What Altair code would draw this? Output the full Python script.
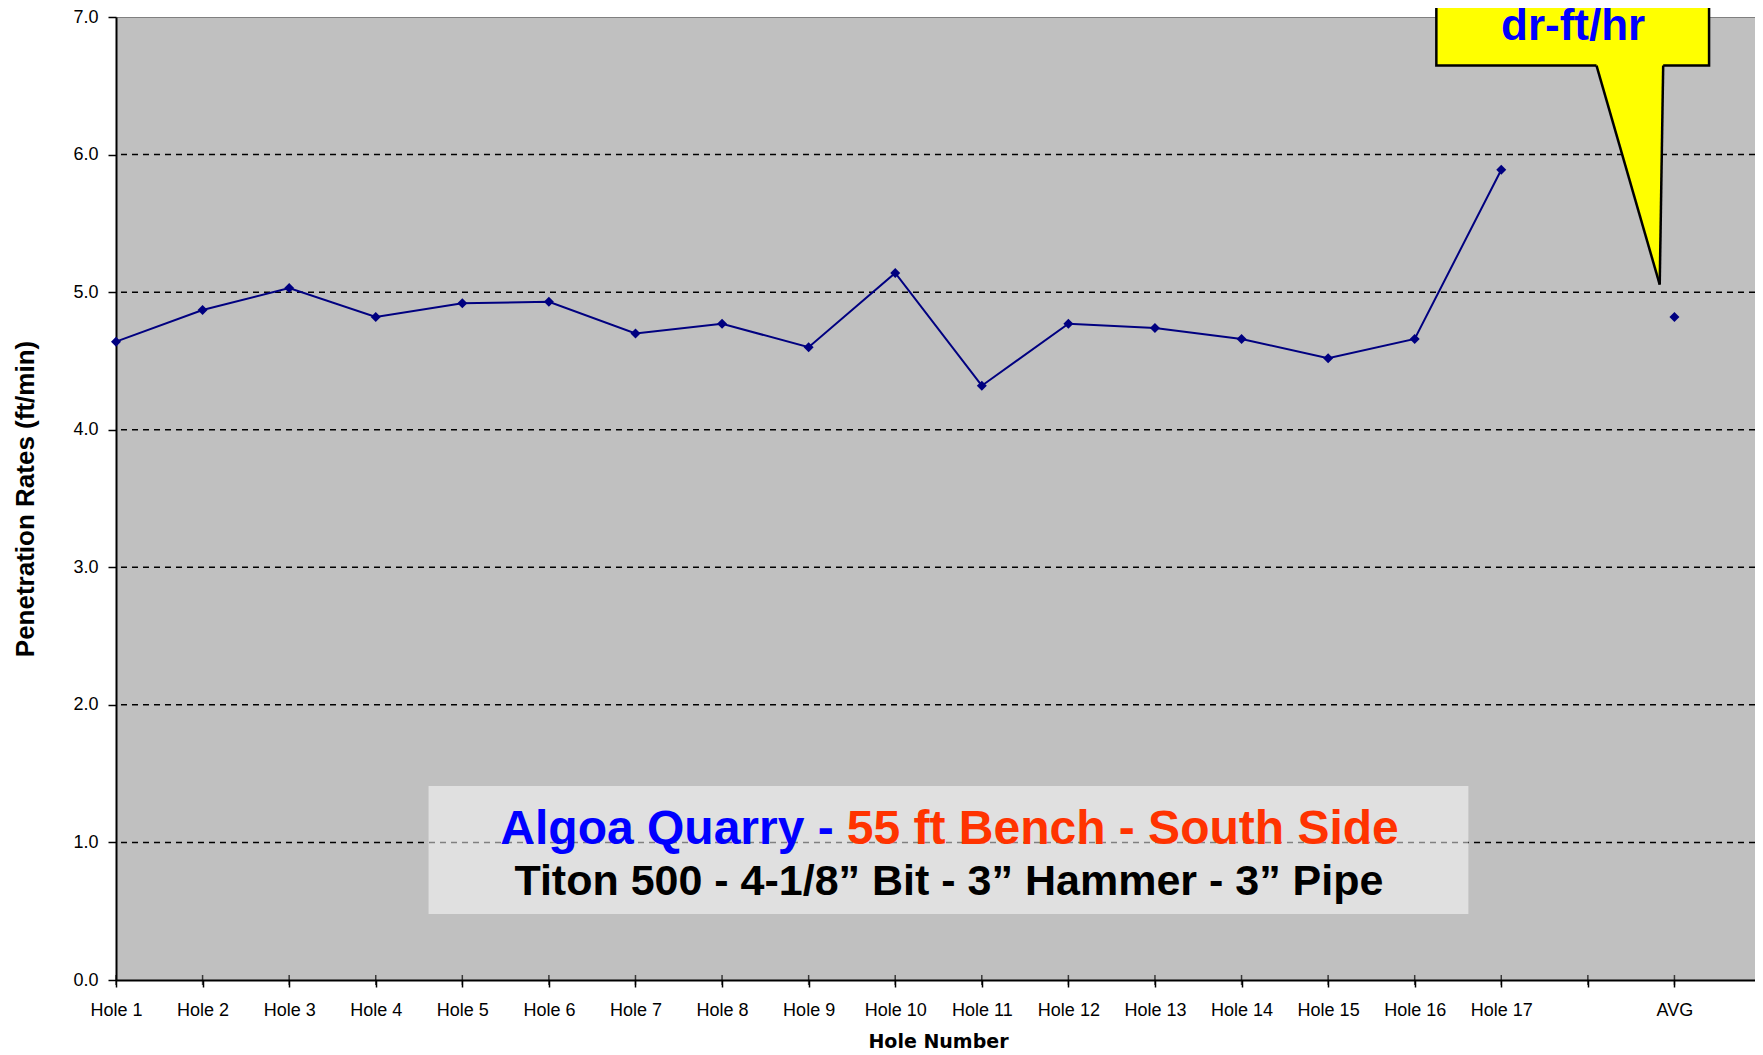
import json
import altair as alt
import pandas as pd

# ---------------- data ----------------
holes = ["Hole 1", "Hole 2", "Hole 3", "Hole 4", "Hole 5", "Hole 6", "Hole 7", "Hole 8",
         "Hole 9", "Hole 10", "Hole 11", "Hole 12", "Hole 13", "Hole 14", "Hole 15",
         "Hole 16", "Hole 17"]
rates = [4.64, 4.87, 5.03, 4.82, 4.92, 4.93, 4.70, 4.77, 4.60, 5.14, 4.32, 4.77,
         4.74, 4.66, 4.52, 4.66, 5.89]
avg_label = "AVG"
avg_rate = 4.82
tick_labels = holes + ["", avg_label]
y_ticks = [0, 1, 2, 3, 4, 5, 6, 7]
grid_levels = [1, 2, 3, 4, 5, 6]

x_title = "Hole Number"
y_title = "Penetration Rates (ft/min)"
callout_text = "dr-ft/hr"
box_line1_a = "Algoa Quarry -"
box_line1_b = "55 ft Bench - South Side"
box_line2 = "Titon 500 - 4-1/8\u201d Bit - 3\u201d Hammer - 3\u201d Pipe"

# ---------------- tables ----------------
df_line = pd.DataFrame({"pos": list(range(len(holes))), "label": holes, "rate": rates})
df_avg = pd.DataFrame({"pos": [tick_labels.index(avg_label)], "label": [avg_label], "rate": [avg_rate]})
df_ticks = pd.DataFrame({"pos": list(range(len(tick_labels)))})
df_grid = pd.DataFrame({"level": grid_levels})

# annotation geometry (in data units of the chart)
df_callout_rect = pd.DataFrame({"x": [15.25], "x2": [18.40], "y": [7.30], "y2": [6.647]})
df_callout_tri = pd.DataFrame({"x": [17.10, 17.83, 17.87], "y": [6.69, 6.69, 6.69], "y2": [6.647, 5.055, 6.647]})
df_callout_sides = pd.DataFrame({"x": [17.10, 17.87], "y": [6.647, 6.647], "x2": [17.83, 17.83], "y2": [5.055, 5.055]})
df_callout_text = pd.DataFrame({"x": [16.83], "y": [6.835], "t": [callout_text]})
df_box = pd.DataFrame({"x": [3.61], "x2": [15.62], "y": [1.41], "y2": [0.48]})
df_box_a = pd.DataFrame({"x": [8.29], "y": [0.99], "t": [box_line1_a]})
df_box_b = pd.DataFrame({"x": [8.44], "y": [0.99], "t": [box_line1_b]})
df_box_c = pd.DataFrame({"x": [9.62], "y": [0.62], "t": [box_line2]})

# ---------------- styling ----------------
# page body is 1747px wide: the svg must not exceed it (else it gets scaled down)
PAD_L = 108
W, H = 1747 - PAD_L, 963
STEP = 86.58  # px per category step
label_font = "Liberation Sans"
x_scale = alt.Scale(domain=[0, W / STEP], nice=False, zero=False)
y_scale = alt.Scale(domain=[0, 7], nice=False, zero=True)

x_axis = alt.Axis(
    values=list(range(len(tick_labels))),
    labelExpr=json.dumps(tick_labels) + "[datum.value] || ''",
    grid=False, domainColor="black", domainWidth=2,
    tickColor="black", tickSize=7, tickWidth=1.5,
    labelFont=label_font, labelFontSize=18, labelColor="black",
    labelPadding=14, labelBaseline="top", labelFlush=False, labelOverlap=False, labelBound=False,
    title=x_title, titleFont="DejaVu Sans", titleFontSize=19, titleFontWeight="bold",
    titleColor="black", titleX=822, titleY=61, titleAlign="center", titleBaseline="middle",
)
y_axis = alt.Axis(
    values=y_ticks, format=".1f", grid=False,
    domainColor="black", domainWidth=2, tickColor="black", tickSize=8, tickWidth=1.5,
    labelFont=label_font, labelFontSize=18, labelColor="black", labelPadding=10,
    labelFlush=False, labelOverlap=False,
    title=y_title, titleFont=label_font, titleFontSize=26, titleFontWeight="bold",
    titleColor="black", titleX=-91, titleY=H / 2, titleAngle=270,
    titleAlign="center", titleBaseline="middle",
)


def X(field):
    return alt.X(f"{field}:Q", scale=x_scale, axis=x_axis)


def Y(field):
    return alt.Y(f"{field}:Q", scale=y_scale, axis=y_axis)


grid = alt.Chart(df_grid).mark_rule(color="black", strokeWidth=1.5, strokeDash=[6, 5]).encode(
    y=Y("level"))

callout_rect = alt.Chart(df_callout_rect).mark_rect(fill="#FFFF00", stroke="black", strokeWidth=2.5).encode(
    x=X("x"), x2="x2", y=Y("y"), y2="y2")
callout_tri = alt.Chart(df_callout_tri).mark_area(color="#FFFF00", opacity=1).encode(
    x=X("x"), y=Y("y"), y2="y2")
callout_sides = alt.Chart(df_callout_sides).mark_rule(color="black", strokeWidth=2.5).encode(
    x=X("x"), x2="x2", y=Y("y"), y2="y2")
callout_txt = alt.Chart(df_callout_text).mark_text(
    font=label_font, fontSize=44, fontWeight="bold", color="#0000FF",
    align="center", baseline="alphabetic").encode(x=X("x"), y=Y("y"), text="t:N")

box = alt.Chart(df_box).mark_rect(fill="white", opacity=0.5).encode(
    x=X("x"), x2="x2", y=Y("y"), y2="y2")
box_a = alt.Chart(df_box_a).mark_text(
    font=label_font, fontSize=48, fontWeight="bold", color="#0000FF",
    align="right", baseline="alphabetic").encode(x=X("x"), y=Y("y"), text="t:N")
box_b = alt.Chart(df_box_b).mark_text(
    font=label_font, fontSize=48, fontWeight="bold", color="#FF3300",
    align="left", baseline="alphabetic").encode(x=X("x"), y=Y("y"), text="t:N")
box_c = alt.Chart(df_box_c).mark_text(
    font=label_font, fontSize=43, fontWeight="bold", color="black",
    align="center", baseline="alphabetic").encode(x=X("x"), y=Y("y"), text="t:N")

line = alt.Chart(df_line).mark_line(color="#000080", strokeWidth=2).encode(
    x=X("pos"), y=Y("rate"))
pts = alt.Chart(df_line).mark_point(shape="diamond", filled=True, size=100, color="#000080", opacity=1).encode(
    x=X("pos"), y=Y("rate"))
avg_pt = alt.Chart(df_avg).mark_point(shape="diamond", filled=True, size=100, color="#000080", opacity=1).encode(
    x=X("pos"), y=Y("rate"))
inner_ticks = alt.Chart(df_ticks).mark_tick(color="black", thickness=1.5, size=10, orient="vertical").encode(
    x=X("pos"), y=alt.value(H))

chart = alt.layer(
    grid, callout_rect, callout_tri, callout_sides, callout_txt,
    box, box_a, box_b, box_c,
    line, pts, avg_pt, inner_ticks,
).properties(
    width=W, height=H,
    padding={"left": PAD_L, "top": 9, "right": 0, "bottom": 74},
    autosize=alt.AutoSizeParams(type="none"),
    background="white",
).configure_view(fill="#C0C0C0", stroke="#808080", strokeWidth=1)

chart.save("out.html", embed_options={"renderer": "svg", "actions": False})
